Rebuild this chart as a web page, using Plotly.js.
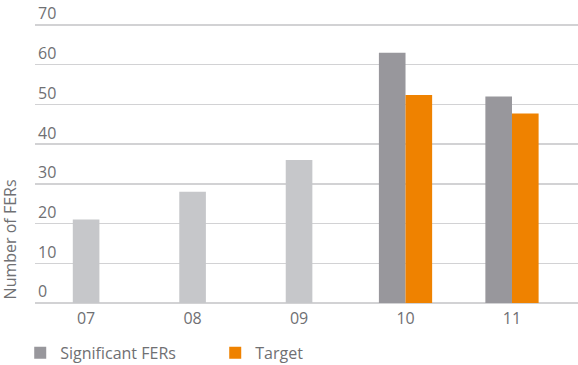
<!DOCTYPE html>
<html>
<head>
<meta charset="utf-8">
<script src="https://cdn.plot.ly/plotly-3.0.1.min.js"></script>
<style>
  html, body { margin: 0; padding: 0; background: #ffffff; }
  #chart { width: 578px; height: 365px; }
</style>
</head>
<body>
<div id="chart"></div>
<script>
// Years shown on the category axis
const years = ['07', '08', '09', '10', '11'];

// Earlier years: significant FERs only, no target set
const earlyYears = ['07', '08', '09'];
const earlyFERs = [21, 28, 36];

// Later years: significant FERs alongside the target
const recentYears = ['10', '11'];
const recentFERs = [63, 52];
const recentTarget = [52.4, 47.7];

const yTicks = [0, 10, 20, 30, 40, 50, 60, 70];

const textGrey = '#6f7073';
const gridGrey = '#d2d2d4';
const font = { family: '"Open Sans", "Noto Sans", sans-serif', size: 16, color: textGrey };

const barW = 0.25;

const traces = [
  {
    type: 'bar',
    name: 'Significant FERs (earlier)',
    x: earlyYears,
    y: earlyFERs,
    width: barW,
    offset: -barW / 2,
    marker: { color: '#c6c7ca' },
    showlegend: false,
    hoverinfo: 'x+y'
  },
  {
    type: 'bar',
    name: 'Significant FERs',
    x: recentYears,
    y: recentFERs,
    width: barW,
    offset: -barW,
    marker: { color: '#98979c' },
    hoverinfo: 'x+y'
  },
  {
    type: 'bar',
    name: 'Target',
    x: recentYears,
    y: recentTarget,
    width: barW,
    offset: 0,
    marker: { color: '#ef8200' },
    hoverinfo: 'x+y'
  }
];

const layout = {
  width: 578,
  height: 365,
  // plot runs to the top edge so the label above the 70 line stays inside it
  margin: { l: 35, r: 0, t: 0, b: 62, pad: 0 },
  paper_bgcolor: '#ffffff',
  plot_bgcolor: '#ffffff',
  font: font,
  barmode: 'overlay',
  xaxis: {
    type: 'category',
    categoryorder: 'array',
    categoryarray: years,
    range: [-0.48, 4.62],
    showgrid: false,
    showline: false,
    zeroline: false,
    ticks: '',
    ticklabelstandoff: 4,
    tickfont: font,
    fixedrange: true
  },
  yaxis: {
    range: [0, 76.3],
    tickvals: yTicks,
    ticktext: yTicks.map(String),
    ticklabelposition: 'inside top',
    showgrid: true,
    gridcolor: gridGrey,
    gridwidth: 1.5,
    zeroline: true,
    zerolinecolor: gridGrey,
    zerolinewidth: 1.5,
    showline: false,
    ticks: '',
    tickfont: font,
    fixedrange: true
  },
  legend: {
    orientation: 'h',
    xref: 'container',
    yref: 'container',
    x: 0.035,
    y: 0.033,
    xanchor: 'left',
    yanchor: 'middle',
    entrywidth: 150,
    font: font,
    traceorder: 'normal'
  },
  annotations: [
    {
      text: 'Number of FERs',
      textangle: -90,
      xref: 'paper',
      yref: 'paper',
      x: -0.046,
      y: 0.21,
      xanchor: 'center',
      yanchor: 'middle',
      showarrow: false,
      font: font
    }
  ],
  showlegend: true
};

Plotly.newPlot('chart', traces, layout, { displayModeBar: false, staticPlot: true });
</script>
</body>
</html>
